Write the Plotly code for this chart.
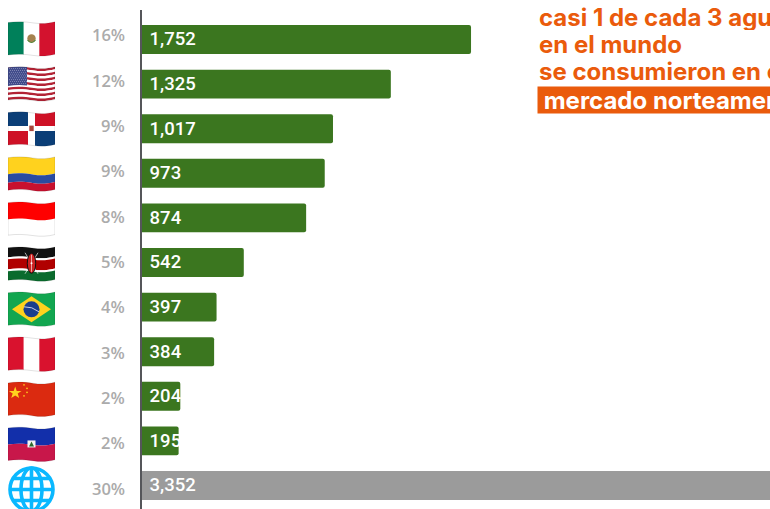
import base64
import plotly.graph_objects as go

countries = ["México", "Estados Unidos", "República Dominicana", "Colombia", "Indonesia",
             "Kenia", "Brasil", "Perú", "China", "Haití", "Otros"]
values = [1752, 1325, 1017, 973, 874, 542, 397, 384, 204, 195, 3352]
value_labels = ["1,752", "1,325", "1,017", "973", "874", "542", "397", "384", "204", "195", "3,352"]
shares = ["16%", "12%", "9%", "9%", "8%", "5%", "4%", "3%", "2%", "2%", "30%"]
title_lines = ["casi 1 de cada 3 aguacates", "en el mundo", "se consumieron en el"]
title_highlight = " mercado norteamericano "

GREEN = "#3B761F"
GREY = "#9B9B9B"
ORANGE = "#EA5B0C"
W, H = 770, 509
L, T = 142, 10
PW, PH = W - L, H - T


def top_edge(y):
    return f"M0 {y+1.5} C8 {y+.3},16 {y+.5},26 {y+2} C32 {y+2.9},40 {y+2.8},47 {y+.8}"


def bottom_edge(y):
    return f"L47 {y+.8} C40 {y+2.8},32 {y+2.9},26 {y+2} C16 {y+.5},8 {y+.3},0 {y+1.5} Z"


def band(y0, y1, c):
    return f'<path d="{top_edge(y0)} {bottom_edge(y1)}" fill="{c}"/>'


OUTLINE = f"{top_edge(.5)} {bottom_edge(33)}"
CLIP = f'<clipPath id="w"><path d="{OUTLINE}"/></clipPath>'
EDGE = f'<path d="{OUTLINE}" fill="none" stroke="#000" stroke-opacity=".15" stroke-width=".8"/>'


def flag(body):
    return ('<svg xmlns="http://www.w3.org/2000/svg" viewBox="0 0 47 37" width="188" height="148">'
            f'<defs>{CLIP}</defs><g clip-path="url(#w)">{body}</g>{EDGE}</svg>')


def vert(cols):
    n = len(cols)
    return "".join(f'<rect x="{i*47/n}" y="-2" width="{47/n+.2}" height="41" fill="{c}"/>'
                   for i, c in enumerate(cols))


def dots(pts, r=.8, c="#FFD21E"):
    return "".join(f'<circle cx="{x}" cy="{y}" r="{r}" fill="{c}"/>' for x, y in pts)


us = '<rect width="47" height="37" fill="#FFF"/>'
us += "".join(band(.5 + i * 32.5 / 13, .5 + (i + 1) * 32.5 / 13, "#B22234" if i % 2 == 0 else "#FFFFFF") for i in range(13))
us += f'<path d="M0 0H19V{20}C12 19,6 19.5,0 20.5Z" fill="#3F4A8A"/>'
us += dots([(1.3 + 2 * i + (j % 2) * 1, 2.8 + 1.9 * j) for j in range(9) for i in range(9)], .42, "#DDE")

dom = ('<rect width="47" height="37" fill="#fff"/>'
       '<path d="M0 0H20V15.5H0Z" fill="#0B3E77"/><path d="M27 0H47V15.5H27Z" fill="#CE1126"/>'
       '<path d="M0 20.5H20V37H0Z" fill="#CE1126"/><path d="M27 20.5H47V37H27Z" fill="#0B3E77"/>'
       '<rect x="21.3" y="15" width="4.4" height="5.5" fill="#A9443A"/>')

mex = vert(["#00805A", "#FFFFFF", "#D3122E"]) + (
    '<circle cx="23.5" cy="18" r="4.2" fill="#A5824F"/>'
    '<path d="M19.5 19.5 Q23.5 24.5 27.5 19.5" fill="none" stroke="#4E8A3B" stroke-width="1.2"/>')
col = band(-3, 17, "#FFD21E") + band(17, 25.5, "#2A4BA0") + band(25.5, 40, "#C8102E")
idn = '<rect width="47" height="37" fill="#FFF"/>' + band(-3, 17, "#FF0000")
ken = (band(-3, 10, "#111") + band(10, 12, "#FFF") + band(12, 22, "#B00000") + band(22, 24, "#FFF")
       + band(24, 40, "#0A6B2D")
       + '<path d="M17 7 L30 28 M30 7 L17 28" stroke="#EEE" stroke-width=".7"/>'
       + '<ellipse cx="23.5" cy="17.5" rx="4.2" ry="10" fill="#C22" stroke="#111" stroke-width="1"/>'
       + '<path d="M23.5 9V26" stroke="#FFF" stroke-width=".6"/><circle cx="23.5" cy="17.5" r="1" fill="#FFF"/>')
bra = ('<rect width="47" height="37" fill="#12A650"/>'
       '<path d="M23.5 5.5 L43 18.5 L23.5 31.5 L4 18.5Z" fill="#FFD21E"/>'
       '<circle cx="23.5" cy="18.5" r="8" fill="#1B3E8C"/>'
       '<path d="M16 16 Q24 15.5 31 21" stroke="#DDE" stroke-width=".9" fill="none"/>')
per = vert(["#D9122E", "#FFFFFF", "#D9122E"])
chn = ('<rect width="47" height="37" fill="#DB2A10"/>'
       '<path d="M8 5 L9.7 10 L15 10 L10.8 13 L12.4 18 L8 15 L3.6 18 L5.2 13 L1 10 L6.3 10Z" fill="#FFD21E" transform="translate(0,1) scale(.9)"/>'
       + dots([(16, 4), (19, 7.5), (19, 11.5), (16, 15)]))
hai = (band(-3, 17, "#122FAA") + band(17, 40, "#C8174A")
       + '<rect x="19.5" y="14.5" width="8" height="7" fill="#F3F3F3"/>'
       + '<path d="M21 20.5 L23.5 15.5 L26 20.5Z" fill="#2C6B2F"/>')

GLOBE = ('<svg xmlns="http://www.w3.org/2000/svg" viewBox="0 0 47 47" width="188" height="188">'
         '<g fill="none" stroke="#0AB8FF" stroke-width="3.6">'
         '<circle cx="23.5" cy="23.5" r="21.5"/><ellipse cx="23.5" cy="23.5" rx="10.5" ry="21.5"/>'
         '<path d="M23.5 2V45M2 23.5H45M6 12.5H41M6 34.5H41"/></g></svg>')

flags = [flag(x) for x in (mex, us, dom, col, idn, ken, bra, per, chn, hai)] + [GLOBE]


def uri(svg):
    return "data:image/svg+xml;base64," + base64.b64encode(svg.encode()).decode()


y_lo, y_hi = -0.661, 10.527


def ypaper(px):
    return 1 - (px - T) / PH


def xpaper(px):
    return (px - L) / PW


images = []
for i, s in enumerate(flags):
    cy = 39 + 45.05 * i
    h = 47 if i == 10 else 37
    images.append(dict(source=uri(s), xref="paper", yref="paper", x=xpaper(8), y=ypaper(cy - h / 2),
                       sizex=47 / PW, sizey=h / PH, sizing="stretch", xanchor="left", yanchor="top",
                       layer="above"))

annotations = []
for i, s in enumerate(shares):
    annotations.append(dict(text=s, x=0, xref="paper", y=countries[i], yref="y", xshift=-15.5, yshift=4.5 - 0.7 * i,
                            xanchor="right", yanchor="middle", showarrow=False,
                            font=dict(family="Open Sans", size=16.5, color="#ABABAB", weight=600)))

for line, yc in zip(title_lines, [17.5, 44, 71.5]):
    annotations.append(dict(text=line, xref="paper", yref="paper", x=xpaper(536.5), y=ypaper(yc), xanchor="left",
                            yanchor="middle", showarrow=False, height=26,
                            font=dict(family="Inter, sans-serif", size=24, color=ORANGE, weight=700)))
annotations.append(dict(text=title_highlight, xref="paper", yref="paper", x=xpaper(536.5), y=ypaper(99.5),
                        xanchor="left", yanchor="middle", showarrow=False, bgcolor=ORANGE, borderpad=0, height=26,
                        font=dict(family="Inter, sans-serif", size=24, color="#FFFFFF", weight=700)))

fig = go.Figure(go.Bar(
    x=values, y=countries, orientation="h", width=0.648,
    marker=dict(color=[GREEN] * 10 + [GREY], line=dict(width=0), cornerradius=2),
    text=value_labels, texttemplate="\u00a0%{text}", textposition="inside", insidetextanchor="start",
    constraintext="none", textangle=0,
    textfont=dict(family="Roboto", size=18.5, color="#FFFFFF", weight=500), hoverinfo="skip",
))
fig.update_layout(
    width=W, height=H, margin=dict(l=L, r=0, t=T, b=0), paper_bgcolor="#FFFFFF", plot_bgcolor="#FFFFFF",
    showlegend=False, images=images, annotations=annotations,
    xaxis=dict(range=[0, PW / 0.1878], visible=False, fixedrange=True),
    yaxis=dict(type="category", categoryorder="array", categoryarray=countries, range=[y_hi, y_lo],
               showticklabels=False, ticks="", showgrid=False, zeroline=False, showline=True,
               linecolor="#55565A", linewidth=2, fixedrange=True),
)
fig.write_html("out.html", config=dict(displayModeBar=False),
               post_script="document.body.style.margin='0';document.body.style.overflow='hidden';")
